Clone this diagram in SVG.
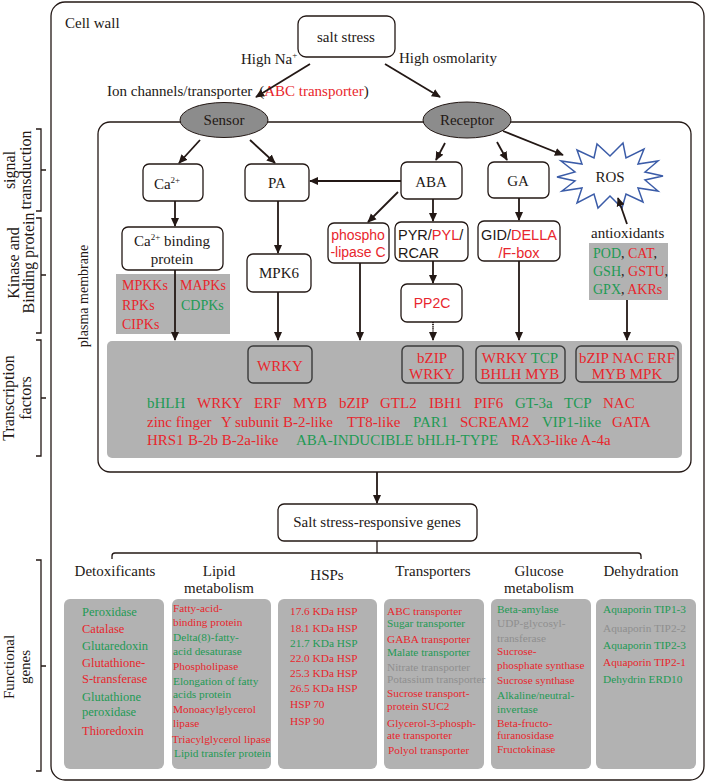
<svg xmlns="http://www.w3.org/2000/svg" width="708" height="784" viewBox="0 0 708 784">
<defs>
<style>
text{font-family:"Liberation Serif","Times New Roman",serif;fill:#231815}
.s{font-family:"Liberation Sans",Arial,sans-serif}
.r{fill:#e8262d}
.g{fill:#1f9a55}
.gy{fill:#8f8f8f}
.k{fill:#231815}
.box{fill:#fff;stroke:#231815;stroke-width:1.3}
.gbox{fill:#b2b2b2;stroke:none}
.tbox{fill:#b2b2b2;stroke:#3a3a3a;stroke-width:1.4}
.ln{fill:none;stroke:#231815;stroke-width:1.3}
.ar{fill:none;stroke:#231815;stroke-width:1.8;marker-end:url(#ah)}
.f16{font-size:16px}
.f15{font-size:15px}
.f14{font-size:14px}
.sm{font-size:11.3px}
.det{font-size:12.5px}
</style>
<marker id="ah" viewBox="0 0 10 10" refX="9" refY="5" markerWidth="9" markerHeight="9" markerUnits="userSpaceOnUse" orient="auto">
<path d="M0,0.5 L10,5 L0,9.5 z" fill="#231815"/>
</marker>
</defs>

<!-- outer cell wall -->
<g id="cellwall">
<rect x="51" y="2" width="653" height="778" rx="14" class="ln"/>
<text x="65" y="28" class="f15">Cell wall</text>
</g>

<!-- plasma membrane -->
<g id="plasma">
<rect x="98" y="122" width="593" height="350" rx="12" class="ln"/>
<text transform="translate(88,296) rotate(-90)" text-anchor="middle" class="f14">plasma membrane</text>
</g>

<!-- left brackets -->
<g id="sidelabels">
<path class="ln" d="M36,129 H41 V211 H36 M41,170 H46"/>
<text transform="translate(15,170) rotate(-90)" text-anchor="middle" class="f16">signal</text>
<text transform="translate(31,170) rotate(-90)" text-anchor="middle" class="f16">transduction</text>
<path class="ln" d="M36,218 H41 V333 H36 M41,275 H46"/>
<text transform="translate(19,263) rotate(-90)" text-anchor="middle" class="f16">Kinase and</text>
<text transform="translate(34,263) rotate(-90)" text-anchor="middle" class="f16">Binding protein</text>
<path class="ln" d="M36,340 H41 V456 H36 M41,398 H46"/>
<text transform="translate(14,398) rotate(-90)" text-anchor="middle" class="f16">Transcription</text>
<text transform="translate(31,398) rotate(-90)" text-anchor="middle" class="f16">factors</text>
<path class="ln" d="M36,560 H41 V771 H36 M41,666 H46"/>
<text transform="translate(14,667) rotate(-90)" text-anchor="middle" class="f15">Functional</text>
<text transform="translate(30,667) rotate(-90)" text-anchor="middle" class="f15">genes</text>
</g>

<g id="saltstress">
<rect x="298" y="16" width="97" height="41" rx="8" class="box"/>
<text x="346" y="42" text-anchor="middle" class="f15">salt stress</text>
</g>
<g id="labels-top">
<text x="241" y="64" class="f15">High Na<tspan font-size="9" dy="-6">+</tspan></text>
<text x="399" y="63" class="f15">High osmolarity</text>
<text x="107" y="96" class="f15">Ion channels/transporter <tspan dx="3">(</tspan><tspan class="r">ABC transporter</tspan>)</text>
</g>

<g id="sensor">
<ellipse cx="224" cy="120" rx="44" ry="17.5" fill="#8c8c8c" stroke="#231815" stroke-width="1"/>
<text x="224" y="125" text-anchor="middle" class="f15">Sensor</text>
</g>
<g id="receptor">
<ellipse cx="467" cy="120" rx="44" ry="18" fill="#8c8c8c" stroke="#231815" stroke-width="1"/>
<text x="467" y="125" text-anchor="middle" class="f15">Receptor</text>
</g>

<g id="ca">
<rect x="143" y="164" width="60" height="37" rx="6" class="box"/>
<text x="167" y="189" text-anchor="middle" class="f15">Ca<tspan font-size="9" dy="-6">2+</tspan></text>
</g>
<g id="pa">
<rect x="245" y="164" width="64" height="37" rx="6" class="box"/>
<text x="277" y="188" text-anchor="middle" class="f15">PA</text>
</g>
<g id="aba">
<rect x="401" y="162" width="61" height="37" rx="6" class="box"/>
<text x="431" y="187" text-anchor="middle" class="f15">ABA</text>
</g>
<g id="ga">
<rect x="488" y="162" width="61" height="36" rx="6" class="box"/>
<text x="518" y="186" text-anchor="middle" class="f15">GA</text>
</g>
<g id="ros">
<polygon points="663,176 645,172 658,161 638,164 644,149 626,158 623,143 610,156 597,144 594,158 577,150 582,164 561,161 575,172 557,177 575,181 562,191 582,188 577,203 594,194 598,208 610,196 622,208 626,194 643,202 638,188 658,191 645,180" fill="#fff" stroke="#3b5ca8" stroke-width="1.5" stroke-linejoin="miter"/>
<text x="610" y="182" text-anchor="middle" class="f15">ROS</text>
</g>

<g id="cabinding">
<rect x="122" y="227" width="101" height="43" rx="6" class="box"/>
<text x="172" y="246" text-anchor="middle" class="f15">Ca<tspan font-size="9" dy="-6">2+</tspan><tspan dy="6"> binding</tspan></text>
<text x="172" y="264" text-anchor="middle" class="f15">protein</text>
</g>
<g id="kinases">
<rect x="116" y="274" width="114" height="60" class="gbox"/>
<text x="122" y="290" class="f14 r">MPKKs</text>
<text x="122" y="310" class="f14 r">RPKs</text>
<text x="122" y="329" class="f14 r">CIPKs</text>
<text x="180" y="290" class="f14 r">MAPKs</text>
<text x="181" y="310" class="f14 g">CDPKs</text>
</g>
<g id="mpk6">
<rect x="247" y="254" width="64" height="38" rx="6" class="box"/>
<text x="279" y="278" text-anchor="middle" class="f15">MPK6</text>
</g>
<g id="phospholipase">
<rect x="328" y="223" width="61" height="40" rx="6" class="box"/>
<text x="358" y="240" text-anchor="middle" class="s f14 r">phospho</text>
<text x="358" y="257" text-anchor="middle" class="s f14 r">-lipase C</text>
</g>
<g id="pyr">
<rect x="395" y="222" width="73" height="39" rx="6" class="box"/>
<text x="398" y="240" class="s" font-size="14.5px">PYR/<tspan class="r">PYL</tspan>/</text>
<text x="398" y="258" class="s" font-size="14.5px">RCAR</text>
</g>
<g id="pp2c">
<rect x="401" y="284" width="61" height="38" rx="6" class="box"/>
<text x="432" y="308" text-anchor="middle" class="s f14 r">PP2C</text>
</g>
<g id="gid">
<rect x="478" y="221" width="82" height="40" rx="6" class="box"/>
<text x="519" y="240" text-anchor="middle" class="s" font-size="14.5px">GID/<tspan class="r">DELLA</tspan></text>
<text x="519" y="258" text-anchor="middle" class="s r" font-size="14.5px">/F-box</text>
</g>
<g id="antioxidants">
<text x="591" y="238" class="f15">antioxidants</text>
<rect x="589" y="243" width="79" height="57" class="gbox"/>
<text x="593" y="258" class="f14"><tspan class="g">POD</tspan>, <tspan class="r">CAT</tspan>,</text>
<text x="593" y="276" class="f14"><tspan class="g">GSH</tspan>, <tspan class="r">GSTU</tspan>,</text>
<text x="593" y="294" class="f14"><tspan class="g">GPX</tspan>, <tspan class="r">AKRs</tspan></text>
</g>

<g id="tf">
<rect x="107" y="341" width="575" height="117" rx="5" class="gbox"/>
<rect x="248" y="346" width="64" height="37" rx="5" class="tbox"/>
<text x="280" y="371" text-anchor="middle" class="f15 r">WRKY</text>
<rect x="402" y="346" width="61" height="37" rx="5" class="tbox"/>
<text x="432" y="363" text-anchor="middle" class="f15 r">bZIP</text>
<text x="432" y="379" text-anchor="middle" class="f15 r">WRKY</text>
<rect x="476" y="346" width="89" height="37" rx="5" class="tbox"/>
<text x="520" y="363" text-anchor="middle" class="f15"><tspan class="r">WRKY</tspan>  <tspan class="g">TCP</tspan></text>
<text x="520" y="379" text-anchor="middle" class="f15 r">BHLH MYB</text>
<rect x="576" y="346" width="102" height="36" rx="5" class="tbox"/>
<text x="627" y="363" text-anchor="middle" class="f15 r">bZIP NAC ERF</text>
<text x="627" y="379" text-anchor="middle" class="f15 r">MYB MPK</text>
<g class="f15">
<text x="147" y="408" class="g">bHLH</text>
<text x="197" y="408" class="r">WRKY</text>
<text x="254" y="408" class="r">ERF</text>
<text x="293" y="408" class="r">MYB</text>
<text x="339" y="408" class="r">bZIP</text>
<text x="380" y="408" class="r">GTL2</text>
<text x="429" y="408" class="r">IBH1</text>
<text x="474" y="408" class="r">PIF6</text>
<text x="515" y="408" class="g">GT-3a</text>
<text x="564" y="408" class="g">TCP</text>
<text x="603" y="408" class="r">NAC</text>
<text x="147" y="427" class="r">zinc finger</text>
<text x="221" y="427" class="r">Y subunit B-2-like</text>
<text x="347" y="427" class="r">TT8-like</text>
<text x="413" y="427" class="g">PAR1</text>
<text x="460" y="427" class="r">SCREAM2</text>
<text x="542" y="427" class="g">VIP1-like</text>
<text x="612" y="427" class="r">GATA</text>
<text x="147" y="445" class="r">HRS1</text>
<text x="188" y="445" class="r">B-2b B-2a-like</text>
<text x="296" y="445" class="g">ABA-INDUCIBLE bHLH-TYPE</text>
<text x="511" y="445" class="r">RAX3-like A-4a</text>
</g>
</g>

<g id="genes">
<rect x="278" y="504" width="199" height="37" rx="6" class="box"/>
<text x="377" y="527" text-anchor="middle" class="f15">Salt stress-responsive genes</text>
</g>

<g id="categories" class="f15">
<text x="115" y="576" text-anchor="middle">Detoxificants</text>
<text x="219" y="576" text-anchor="middle">Lipid</text>
<text x="219" y="593" text-anchor="middle">metabolism</text>
<text x="327" y="580" text-anchor="middle">HSPs</text>
<text x="433" y="576" text-anchor="middle">Transporters</text>
<text x="539" y="576" text-anchor="middle">Glucose</text>
<text x="539" y="593" text-anchor="middle">metabolism</text>
<text x="641" y="576" text-anchor="middle">Dehydration</text>
</g>

<g id="detox">
<rect x="64" y="599" width="100" height="170" rx="6" class="gbox"/>
<g class="det">
<text x="82" y="616" class="g">Peroxidase</text>
<text x="82" y="633" class="r">Catalase</text>
<text x="82" y="650" class="g">Glutaredoxin</text>
<text x="82" y="667" class="r">Glutathione-</text>
<text x="82" y="683" class="r">S-transferase</text>
<text x="82" y="701" class="g">Glutathione</text>
<text x="82" y="716" class="g">peroxidase</text>
<text x="82" y="735" class="r">Thioredoxin</text>
</g>
</g>
<g id="lipid">
<rect x="172" y="599" width="99" height="170" rx="6" class="gbox"/>
<g class="sm">
<text x="173" y="612" class="r">Fatty-acid-</text>
<text x="173" y="626" class="r">binding protein</text>
<text x="173" y="641" class="g">Delta(8)-fatty-</text>
<text x="173" y="655" class="g">acid desaturase</text>
<text x="173" y="670" class="r">Phospholipase</text>
<text x="173" y="685" class="g">Elongation of fatty</text>
<text x="173" y="698" class="g">acids protein</text>
<text x="173" y="713" class="r">Monoacylglycerol</text>
<text x="173" y="727" class="r">lipase</text>
<text x="172" y="743" class="r">Triacylglycerol lipase</text>
<text x="174" y="757" class="g">Lipid transfer protein</text>
</g>
</g>
<g id="hsps">
<rect x="278" y="599" width="99" height="170" rx="6" class="gbox"/>
<g class="sm">
<text x="290" y="615" class="r">17.6 KDa HSP</text>
<text x="290" y="632" class="r">18.1 KDa HSP</text>
<text x="290" y="647" class="g">21.7 KDa HSP</text>
<text x="290" y="662" class="r">22.0 KDa HSP</text>
<text x="290" y="677" class="r">25.3 KDa HSP</text>
<text x="290" y="692" class="r">26.5 KDa HSP</text>
<text x="290" y="708" class="r">HSP 70</text>
<text x="290" y="725" class="r">HSP 90</text>
</g>
</g>
<g id="transporters">
<rect x="384" y="599" width="100" height="170" rx="6" class="gbox"/>
<g class="sm">
<text x="387" y="615" class="r">ABC transporter</text>
<text x="387" y="627" class="g">Sugar transporter</text>
<text x="387" y="643" class="r">GABA transporter</text>
<text x="387" y="656" class="g">Malate transporter</text>
<text x="387" y="671" class="gy">Nitrate transporter</text>
<text x="387" y="683" class="gy">Potassium transporter</text>
<text x="387" y="697" class="r">Sucrose transport-</text>
<text x="387" y="710" class="r">protein SUC2</text>
<text x="387" y="727" class="r">Glycerol-3-phosph-</text>
<text x="387" y="739" class="r">ate transporter</text>
<text x="388" y="754" class="r">Polyol transporter</text>
</g>
</g>
<g id="glucose">
<rect x="491" y="599" width="100" height="170" rx="6" class="gbox"/>
<g class="sm">
<text x="497" y="613" class="g">Beta-amylase</text>
<text x="497" y="627" class="gy">UDP-glycosyl-</text>
<text x="497" y="642" class="gy">transferase</text>
<text x="497" y="655" class="r">Sucrose-</text>
<text x="497" y="669" class="r">phosphate synthase</text>
<text x="497" y="684" class="r">Sucrose synthase</text>
<text x="497" y="699" class="g">Alkaline/neutral-</text>
<text x="497" y="713" class="g">invertase</text>
<text x="497" y="727" class="r">Beta-fructo-</text>
<text x="497" y="739" class="r">furanosidase</text>
<text x="497" y="753" class="r">Fructokinase</text>
</g>
</g>
<g id="dehydration">
<rect x="596" y="599" width="100" height="170" rx="6" class="gbox"/>
<g class="sm">
<text x="603" y="613" class="g">Aquaporin TIP1-3</text>
<text x="603" y="632" class="gy">Aquaporin TIP2-2</text>
<text x="603" y="649" class="g">Aquaporin TIP2-3</text>
<text x="603" y="666" class="r">Aquaporin TIP2-1</text>
<text x="603" y="683" class="g">Dehydrin ERD10</text>
</g>
</g>

<g id="connectors">
<line x1="310" y1="64" x2="256" y2="97" class="ar"/>
<line x1="385" y1="64" x2="440" y2="97" class="ar"/>
<line x1="200" y1="140" x2="179" y2="163" class="ar"/>
<line x1="250" y1="140" x2="275" y2="163" class="ar"/>
<line x1="445" y1="143" x2="436" y2="160" class="ar"/>
<line x1="497" y1="142" x2="507" y2="160" class="ar"/>
<line x1="503" y1="131" x2="563" y2="155" class="ar"/>
<line x1="401" y1="181" x2="310" y2="181" class="ar"/>
<line x1="175" y1="201" x2="175" y2="226" class="ar"/>
<line x1="278" y1="201" x2="278" y2="253" class="ar"/>
<line x1="175" y1="270" x2="175" y2="340" class="ar"/>
<line x1="278" y1="292" x2="278" y2="340" class="ar"/>
<line x1="398" y1="192" x2="368" y2="222" class="ar"/>
<line x1="360" y1="263" x2="360" y2="340" class="ar"/>
<line x1="433" y1="199" x2="433" y2="221" class="ar"/>
<line x1="433" y1="261" x2="433" y2="283" class="ar"/>
<line x1="433" y1="322" x2="433" y2="340" class="ar" stroke-width="2.2" stroke-dasharray="1.2,0.9"/>
<line x1="519" y1="198" x2="519" y2="220" class="ar"/>
<line x1="519" y1="261" x2="519" y2="340" class="ar"/>
<line x1="627" y1="224" x2="618" y2="198" class="ar"/>
<line x1="627" y1="300" x2="627" y2="340" class="ar"/>
<line x1="377" y1="472" x2="377" y2="503" class="ar"/>
<path class="ln" d="M377,541 V553 M112,559 V556 Q112,553 115,553 H638 Q641,553 641,556 V559"/>
</g>
</svg>
